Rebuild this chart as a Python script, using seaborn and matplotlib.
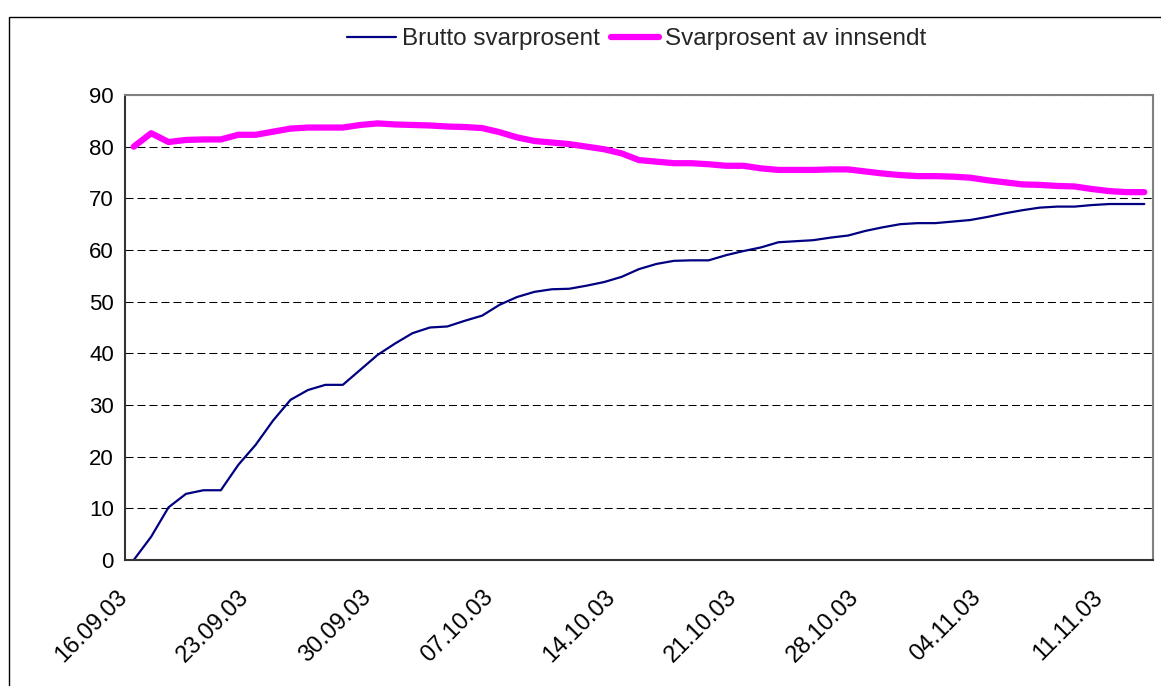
import matplotlib
matplotlib.use('Agg')
import matplotlib.pyplot as plt
import matplotlib.dates as mdates
from matplotlib.patches import Rectangle
from matplotlib.transforms import ScaledTranslation
import pandas as pd
import seaborn as sns

# daily response rates from 16.09.03
start_date = '2003-09-16'
brutto = [0.0, 4.5, 10.2, 12.8, 13.5, 13.5, 18.4, 22.3, 27.0, 31.0,
          32.9, 33.9, 33.9, 36.8, 39.7, 41.9, 43.9, 45.0, 45.2, 46.3,
          47.3, 49.4, 50.9, 51.9, 52.4, 52.5, 53.1, 53.8, 54.8, 56.3,
          57.3, 57.9, 58.0, 58.0, 59.0, 59.8, 60.5, 61.5, 61.7, 61.9,
          62.4, 62.8, 63.7, 64.4, 65.0, 65.2, 65.2, 65.5, 65.8, 66.4,
          67.1, 67.7, 68.2, 68.4, 68.4, 68.7, 68.9, 68.9, 68.9]
innsendt = [80.0, 82.6, 80.9, 81.3, 81.4, 81.4, 82.3, 82.3, 82.9, 83.5,
            83.7, 83.7, 83.7, 84.2, 84.5, 84.3, 84.2, 84.1, 83.9, 83.8,
            83.6, 82.8, 81.8, 81.1, 80.8, 80.5, 80.0, 79.5, 78.7, 77.4,
            77.1, 76.8, 76.8, 76.6, 76.3, 76.3, 75.8, 75.5, 75.5, 75.5,
            75.6, 75.6, 75.2, 74.8, 74.5, 74.3, 74.3, 74.2, 74.0, 73.5,
            73.1, 72.7, 72.6, 72.4, 72.3, 71.8, 71.4, 71.2, 71.2]
series_names = ['Brutto svarprosent', 'Svarprosent av innsendt']
tick_dates = ['2003-09-16', '2003-09-23', '2003-09-30', '2003-10-07',
              '2003-10-14', '2003-10-21', '2003-10-28', '2003-11-04',
              '2003-11-11']
y_ticks = [0, 10, 20, 30, 40, 50, 60, 70, 80, 90]

dates = pd.date_range(start_date, periods=len(brutto), freq='D')
df = pd.DataFrame({'dato': dates + pd.Timedelta(hours=12),
                   'brutto': brutto, 'innsendt': innsendt})

sns.set_style('white')
plt.rcParams['font.family'] = ['Liberation Sans', 'DejaVu Sans']

W, H = 1161, 686
fig = plt.figure(figsize=(W / 100, H / 100), dpi=100)
ax = fig.add_axes([125 / W, 1 - 560 / H, (1153 - 125) / W, (560 - 95) / H])

sns.lineplot(data=df, x='dato', y='brutto', ax=ax, color='#000080',
             linewidth=1.6, label=series_names[0], legend=False, clip_on=False)
sns.lineplot(data=df, x='dato', y='innsendt', ax=ax, color='#ff00ff',
             linewidth=4.5, label=series_names[1], legend=False,
             solid_capstyle='round')

ax.set_xlim(dates[0], dates[-1] + pd.Timedelta(days=1))
ax.set_ylim(0, 90)
ax.set_yticks(y_ticks)
ax.set_xticks(pd.to_datetime(tick_dates))
ax.xaxis.set_major_formatter(mdates.DateFormatter('%d.%m.%y'))
ax.set_xlabel('')
ax.set_ylabel('')

ax.yaxis.grid(True, color='black', linestyle=(0, (7.7, 3.8)), linewidth=0.75)
ax.xaxis.grid(False)
ax.tick_params(axis='both', direction='out', length=5, width=1,
               color='black', labelcolor='black')
ax.tick_params(axis='y', pad=3, labelsize=16)
ax.tick_params(axis='x', pad=14, labelsize=17)
shift = ScaledTranslation(-9 / 100, 0, fig.dpi_scale_trans)
for lbl in ax.get_xticklabels():
    lbl.set_rotation(45)
    lbl.set_ha('right')
    lbl.set_rotation_mode('anchor')
    lbl.set_transform(lbl.get_transform() + shift)

for side in ['top', 'right']:
    ax.spines[side].set_color('#808080')
    ax.spines[side].set_linewidth(1.5)
for side in ['left', 'bottom']:
    ax.spines[side].set_color('#333333')
    ax.spines[side].set_linewidth(1.5)

handles, labels = ax.get_legend_handles_labels()
fig.legend(handles, labels, loc='center', bbox_to_anchor=(637 / W, 1 - 39 / H),
           ncol=2, frameon=False, fontsize=17.5, handlelength=2.0,
           handletextpad=0.25, columnspacing=0.45)

# outer chart frame
fig.add_artist(Rectangle((9 / W, -0.1), 1.2, 1.1 - 17 / H,
                         transform=fig.transFigure, fill=False,
                         edgecolor='black', linewidth=1))

fig.savefig('out.png', dpi=100, facecolor='white')
